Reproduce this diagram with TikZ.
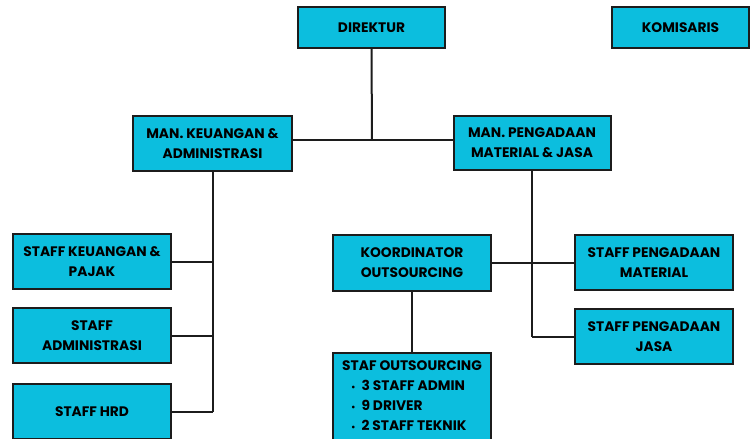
\documentclass[tikz,border=0pt]{standalone}
\usepackage{fontspec}
\setmainfont{Poppins}
\definecolor{boxc}{RGB}{12,190,222}
\definecolor{linec}{RGB}{28,28,28}
\begin{document}
\begin{tikzpicture}[x=1pt,y=-1pt,
  box/.style={draw=linec, line width=2pt, fill=boxc, align=center, inner sep=0pt,
    font=\bfseries\fontsize{13.8}{20}\selectfont},
  txt/.style={align=left, inner sep=0pt, font=\bfseries\fontsize{13.8}{19.7}\selectfont},
  conn/.style={draw=linec, line width=2pt}]
\useasboundingbox (0,0) rectangle (750,439);
\node[box, minimum width=147, minimum height=41] (dir) at (371.5,27.5) {DIREKTUR};
\node[box, minimum width=137, minimum height=41] (kom) at (680.5,27.5) {KOMISARIS};
\node[box, minimum width=159, minimum height=55] (mk) at (212.5,143.5) {MAN. KEUANGAN \&\\ADMINISTRASI};
\node[box, minimum width=157, minimum height=54] (mp) at (532,143) {MAN. PENGADAAN\\MATERIAL \& JASA};
\node[box, minimum width=158, minimum height=55] (sk) at (92,261.5) {STAFF KEUANGAN \&\\PAJAK};
\node[box, minimum width=158, minimum height=55] (sa) at (92,335.5) {STAFF\\ADMINISTRASI};
\node[box, minimum width=158, minimum height=55] (shrd) at (92,411.5) {STAFF HRD};
\node[box, minimum width=158, minimum height=56] (ko) at (412,263) {KOORDINATOR\\OUTSOURCING};
\node[box, minimum width=158, minimum height=55] (spm) at (654,262.5) {STAFF PENGADAAN\\MATERIAL};
\node[box, minimum width=158, minimum height=55] (spj) at (654,336.5) {STAFF PENGADAAN\\JASA};
\node[box, minimum width=158, minimum height=92, anchor=north] (so) at (412,352) {};
\node[txt, anchor=north] (sotext) at ([yshift=-5]so.north) {\begin{tabular}{@{}l@{}}\multicolumn{1}{@{}c@{}}{STAF OUTSOURCING}\\
\hspace{9pt}{\fontsize{9}{9}\selectfont\textbullet}\ \ 3 STAFF ADMIN\\
\hspace{9pt}{\fontsize{9}{9}\selectfont\textbullet}\ \ 9 DRIVER\\
\hspace{9pt}{\fontsize{9}{9}\selectfont\textbullet}\ \ 2 STAFF TEKNIK\end{tabular}};
\coordinate (j1) at (372,140);
\draw[conn] (dir.south) -- (j1);
\draw[conn] (mk.east |- j1) -- (mp.west |- j1);
\draw[conn] (mk.south) -- (mk.south |- shrd.east);
\draw[conn] (sk.east) -- (mk.south |- sk.east);
\draw[conn] (sa.east) -- (mk.south |- sa.east);
\draw[conn] (shrd.east) -- (mk.south |- shrd.east);
\draw[conn] (mp.south) -- (mp.south |- spj.west);
\draw[conn] (spj.west) -- (mp.south |- spj.west);
\draw[conn] (ko.east) -- (spm.west |- ko.east);
\draw[conn] (ko.south) -- (so.north);
\end{tikzpicture}
\end{document}
